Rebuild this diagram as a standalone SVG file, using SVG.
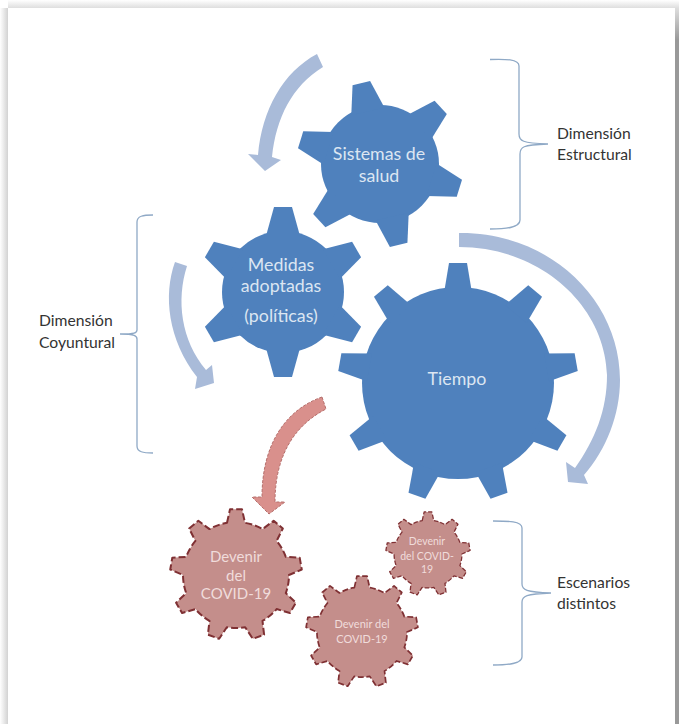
<svg xmlns="http://www.w3.org/2000/svg" width="679" height="724" viewBox="0 0 679 724">
<style>
text{font-family:Lato,"Open Sans","Liberation Sans",sans-serif;text-anchor:middle}
.w{fill:#dce6f2;font-size:17.800px}
.k{fill:#333;font-size:15.700px;text-anchor:start}
.p{fill:#f0dcdb}
.b{fill:#4f81bd}
.a{fill:#a9bbd9}
.r{fill:#c48e8b;stroke:#7f3033;stroke-width:2;stroke-dasharray:7 3;stroke-linejoin:round;vector-effect:non-scaling-stroke}
.br{fill:none;stroke:#8fa9c6;stroke-width:1.3}
</style>
<defs>
<linearGradient id="sl" x1="0" x2="1" y1="0" y2="0"><stop offset="0" stop-color="#fff"/><stop offset="1" stop-color="#d2d2d2"/></linearGradient>
<linearGradient id="st" x1="0" x2="0" y1="0" y2="1"><stop offset="0" stop-color="#fff"/><stop offset="1" stop-color="#dedede"/></linearGradient>
<linearGradient id="sr" gradientUnits="userSpaceOnUse" x1="0" x2="0" y1="8" y2="40"><stop offset="0" stop-color="#dedede"/><stop offset="1" stop-color="#999"/></linearGradient>
<path id="rg" d="M-9,-52.200L-5.980,-65.700L5.980,-65.700L9,-52.200A53,53 0 0 1 26.500,-45.900L37.670,-54.190L46.830,-46.500L40.600,-34.070A53,53 0 0 1 49.800,-18.130L63.690,-17.300L65.770,-5.520L53,0A53,53 0 0 1 49.800,18.130L59.910,27.690L53.930,38.040L40.600,34.070A53,53 0 0 1 26.500,45.900L28.100,59.720L16.860,63.810L9.200,52.200A53,53 0 0 1 -9.200,52.200L-16.860,63.810L-28.100,59.720L-26.500,45.900A53,53 0 0 1 -40.600,34.070L-53.930,38.040L-59.910,27.690L-49.800,18.130A53,53 0 0 1 -53,0L-65.770,-5.520L-63.690,-17.300L-49.800,-18.130A53,53 0 0 1 -40.600,-34.070L-46.830,-46.500L-37.670,-54.190L-26.500,-45.900A53,53 0 0 1 -9,-52.200Z"/>
</defs>
<rect width="679" height="724" fill="#fff"/>
<rect x="0" y="8" width="8" height="716" fill="url(#sl)"/>
<rect x="8" y="0" width="671" height="8" fill="url(#st)"/>
<rect x="675" y="8" width="4" height="716" fill="url(#sr)"/>
<g id="connectors">
<path class="a" d="M317,54C283,72 262,110 258,155L248,154L265,171L281,160L272,157C276,118 292,86 323,67Z"/>
<path class="a" d="M175,262C163,295 168,340 197,377L195,389L214,383L212,365L206,370C181,340 176,300 187,266Z"/>
<path class="a" d="M459,233C550,232 620,300 620,380C620,415 606,450 584,475L588,484L568,482L566,462L575,468C595,440 607,410 607,375C605,305 540,247 459,247Z"/>
<path d="M322,397C285,410 262,445 262,497L252,497L269,514L285,502L275,502C275,455 295,425 326,409Z" fill="#d9908c" stroke="#b56e6b" stroke-width="1" stroke-dasharray="3 1.500"/>
</g>
<g id="brace-estructural">
<path class="br" d="M490,59.500C505,59 519,59 519,66V134C519,141 522,143 548,144C522,145 520,147 520,154V220C520,228 505,229 490,229"/>
<text class="k" x="557" y="139">Dimensión</text>
<text class="k" x="557" y="160">Estructural</text>
</g>
<g id="brace-coyuntural">
<path class="br" d="M153,215C143,215 137,216 137,222V330C137,333 135,334 120,334C135,334 137,336 137,339V446C137,452 143,453 153,453"/>
<text class="k" x="39" y="326">Dimensión</text>
<text class="k" x="39" y="348">Coyuntural</text>
</g>
<g id="brace-escenarios">
<path class="br" d="M493,521C508,521 522,521 522,528V584C522,590 526,592 551,593C526,594 522,596 522,602V657C522,664 508,665 493,665"/>
<text class="k" x="557" y="588">Escenarios</text>
<text class="k" x="557" y="609">distintos</text>
</g>
<g id="gear-sistemas">
<circle class="b" cx="380" cy="164" r="59"/>
<g transform="translate(380 164)">
<path class="b" d="M-17,-54L-9,-83L9,-83L17,-54Z" transform="rotate(-13)"/>
<path class="b" d="M-17,-54L-9,-83L9,-83L17,-54Z" transform="rotate(47)"/>
<path class="b" d="M-17,-54L-9,-83L9,-83L17,-54Z" transform="rotate(107)"/>
<path class="b" d="M-17,-54L-9,-83L9,-83L17,-54Z" transform="rotate(167)"/>
<path class="b" d="M-17,-54L-9,-83L9,-83L17,-54Z" transform="rotate(227)"/>
<path class="b" d="M-17,-54L-9,-83L9,-83L17,-54Z" transform="rotate(287)"/>
</g>
<text class="w" x="379" y="160">Sistemas de</text>
<text class="w" x="379" y="182">salud</text>
</g>
<g id="gear-medidas">
<circle class="b" cx="283" cy="292" r="61"/>
<g transform="translate(283 292)">
<path class="b" d="M-17,-56L-9,-85L9,-85L17,-56Z"/>
<path class="b" d="M-17,-56L-9,-85L9,-85L17,-56Z" transform="rotate(60)"/>
<path class="b" d="M-17,-56L-9,-85L9,-85L17,-56Z" transform="rotate(120)"/>
<path class="b" d="M-17,-56L-9,-85L9,-85L17,-56Z" transform="rotate(180)"/>
<path class="b" d="M-17,-56L-9,-85L9,-85L17,-56Z" transform="rotate(240)"/>
<path class="b" d="M-17,-56L-9,-85L9,-85L17,-56Z" transform="rotate(300)"/>
</g>
<text class="w" x="281" y="271">Medidas</text>
<text class="w" x="281" y="292">adoptadas</text>
<text class="w" x="281" y="322">(políticas)</text>
</g>
<g id="gear-tiempo">
<circle class="b" cx="458" cy="383" r="96"/>
<g transform="translate(458 383)">
<path class="b" d="M-14,-90L-9,-120L9,-120L14,-90Z"/>
<path class="b" d="M-14,-90L-9,-120L9,-120L14,-90Z" transform="rotate(40)"/>
<path class="b" d="M-14,-90L-9,-120L9,-120L14,-90Z" transform="rotate(80)"/>
<path class="b" d="M-14,-90L-9,-120L9,-120L14,-90Z" transform="rotate(120)"/>
<path class="b" d="M-14,-90L-9,-120L9,-120L14,-90Z" transform="rotate(160)"/>
<path class="b" d="M-14,-90L-9,-120L9,-120L14,-90Z" transform="rotate(200)"/>
<path class="b" d="M-14,-90L-9,-120L9,-120L14,-90Z" transform="rotate(240)"/>
<path class="b" d="M-14,-90L-9,-120L9,-120L14,-90Z" transform="rotate(280)"/>
<path class="b" d="M-14,-90L-9,-120L9,-120L14,-90Z" transform="rotate(320)"/>
</g>
<text class="w" x="457" y="385">Tiempo</text>
</g>
<g id="gear-devenir-1">
<use href="#rg" class="r" transform="translate(236 575)"/>
<text class="p" font-size="15" x="236" y="562">Devenir</text>
<text class="p" font-size="15" x="236" y="581">del</text>
<text class="p" font-size="15" x="236" y="599">COVID-19</text>
</g>
<g id="gear-devenir-2">
<use href="#rg" class="r" transform="translate(362 632) scale(.85)"/>
<text class="p" font-size="11" x="362" y="628">Devenir del</text>
<text class="p" font-size="11" x="362" y="643">COVID-19</text>
</g>
<g id="gear-devenir-3">
<use href="#rg" class="r" transform="translate(428 554) scale(.64)"/>
<text class="p" font-size="10.500" x="427" y="545">Devenir</text>
<text class="p" font-size="10.500" x="427" y="560">del COVID-</text>
<text class="p" font-size="10.500" x="427" y="573">19</text>
</g>
</svg>
